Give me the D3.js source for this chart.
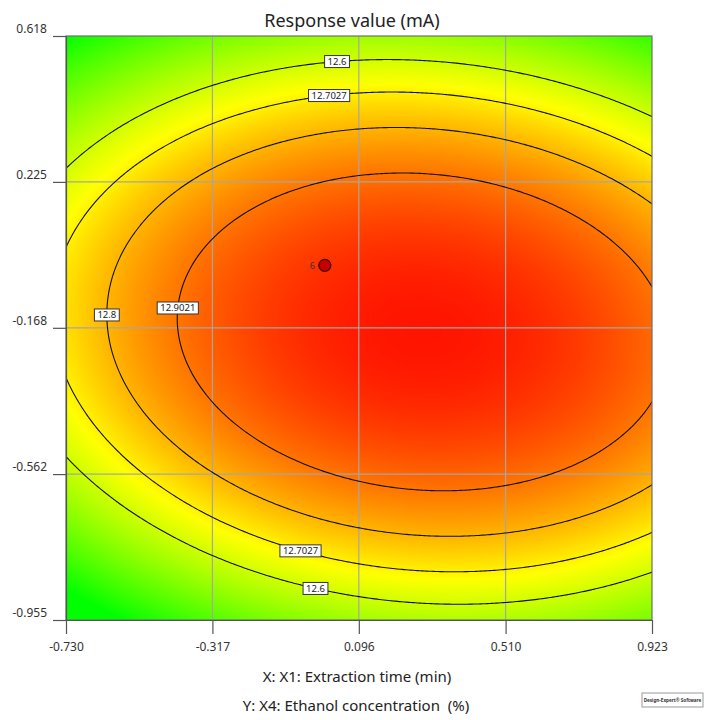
<html>
<head>
<script src="https://d3js.org/d3.v7.min.js"></script>
<style>
  body { margin: 0; background: #fff; }
  text { font-family: "Segoe UI", "Noto Sans", sans-serif; }
</style>
</head>

<body>

<script>

// axis ticks (coded units)
var xTicks = [-0.730, -0.317, 0.096, 0.510, 0.923];
var yTicks = [-0.955, -0.562, -0.168, 0.225, 0.618];

// fitted quadratic surface:
// f = peak - a*dx^2 - e*dx*dy - b*dy^2,  dx = x - x0, dy = y - y0
var modelNames = ["peak", "x0", "y0", "a", "e", "b"];
var modelCoef  = [13.058, 0.277, -0.179, 0.3267, 0.0890, 0.8572];

// contour levels
var levels = [12.6, 12.7027, 12.8, 12.9021];

// contour labels: level, where it sits, which side of the ellipse
var labelLevels = [12.6, 12.7027, 12.8, 12.9021, 12.7027, 12.6];
var labelAt     = [0.0345, 0.0122, -0.1334, -0.1146, -0.0685, -0.0262];
var labelSide   = ["top", "top", "left", "left", "bottom", "bottom"];

// design point
var pointX = [0.0], pointY = [0.0], pointCount = ["6"];

// colour stops
var colorValues = [12.25, 12.68, 13.09];
var colorStops  = ["#00ff00", "#ffff00", "#ff0000"];

var m = {};
modelNames.forEach(function(n, i) { m[n] = modelCoef[i]; });

function f(xv, yv) {
  var dx = xv - m.x0, dy = yv - m.y0;
  return m.peak - m.a * dx * dx - m.e * dx * dy - m.b * dy * dy;
}

var W = 704, H = 720;
var pL = 66, pT = 36, pR = 652, pB = 620;

var svg = d3.select("body").append("svg")
            .attr("width", W)
            .attr("height", H);

var x = d3.scaleLinear().domain([-0.730, 0.923]).range([pL, pR]);
var y = d3.scaleLinear().domain([-0.955, 0.618]).range([pB, pT]);

var color = d3.scaleLinear().domain(colorValues).range(colorStops).clamp(true);

// heat map painted on a canvas, then placed in the svg
var pw = pR - pL, ph = pB - pT;
var canvas = document.createElement("canvas");
canvas.width = pw; canvas.height = ph;
var ctx = canvas.getContext("2d");
var img = ctx.createImageData(pw, ph);
for (var j = 0; j < ph; j++) {
  var yv = y.invert(pT + j + 0.5);
  for (var i = 0; i < pw; i++) {
    var c = d3.rgb(color(f(x.invert(pL + i + 0.5), yv)));
    var k = (j * pw + i) * 4;
    img.data[k] = c.r; img.data[k + 1] = c.g; img.data[k + 2] = c.b; img.data[k + 3] = 255;
  }
}
ctx.putImageData(img, 0, 0);

svg.append("image")
   .attr("x", pL).attr("y", pT)
   .attr("width", pw).attr("height", ph)
   .attr("href", canvas.toDataURL());

// grid lines
svg.append("g").selectAll("line")
   .data(xTicks.slice(1, -1))
   .enter().append("line")
   .attr("x1", function(d) { return x(d); }).attr("x2", function(d) { return x(d); })
   .attr("y1", pT).attr("y2", pB)
   .attr("stroke", "#a6a6a6").attr("stroke-width", 1.2);

svg.append("g").selectAll("line")
   .data(yTicks.slice(1, -1))
   .enter().append("line")
   .attr("y1", function(d) { return y(d); }).attr("y2", function(d) { return y(d); })
   .attr("x1", pL).attr("x2", pR)
   .attr("stroke", "#a6a6a6").attr("stroke-width", 1.2);

// contours over a slightly larger grid, clipped to the plot
var xe = [-0.85, 1.05], ye = [-1.08, 0.74], n = 300;
var sx = (xe[1] - xe[0]) / (n - 1), sy = (ye[1] - ye[0]) / (n - 1);
var grid = new Array(n * n);
for (var gj = 0; gj < n; gj++)
  for (var gi = 0; gi < n; gi++)
    grid[gj * n + gi] = f(xe[0] + gi * sx, ye[0] + gj * sy);

var contours = d3.contours().size([n, n]).thresholds(levels)(grid);

var proj = d3.geoTransform({
  point: function(gx, gy) {
    this.stream.point(x(xe[0] + (gx - 0.5) * sx), y(ye[0] + (gy - 0.5) * sy));
  }
});

svg.append("clipPath").attr("id", "plotclip")
   .append("rect").attr("x", pL).attr("y", pT).attr("width", pw).attr("height", ph);

svg.append("g")
   .attr("clip-path", "url(#plotclip)")
   .selectAll("path")
   .data(contours)
   .enter().append("path")
   .attr("d", d3.geoPath(proj))
   .attr("fill", "none")
   .attr("stroke", "#111")
   .attr("stroke-width", 1.1);

// frame
svg.append("rect")
   .attr("x", pL).attr("y", pT).attr("width", pw).attr("height", ph)
   .attr("fill", "none").attr("stroke", "#6e6e6e").attr("stroke-width", 1.2);

// axes (plain hyphen for negatives, as in the original)
var fmt = d3.formatLocale({ decimal: ".", thousands: ",", grouping: [3], currency: ["", ""], minus: "-" }).format(".3f");

var xAxis = svg.append("g")
   .attr("transform", "translate(0," + pB + ")")
   .call(d3.axisBottom(x).tickValues(xTicks).tickFormat(fmt).tickSize(14).tickSizeOuter(0).tickPadding(8));

var yAxis = svg.append("g")
   .attr("transform", "translate(" + pL + ",0)")
   .call(d3.axisLeft(y).tickValues(yTicks).tickFormat(fmt).tickSize(13).tickSizeOuter(0).tickPadding(6));

[xAxis, yAxis].forEach(function(ax) {
  ax.select(".domain").attr("stroke", "#555").attr("stroke-width", 1.2);
  ax.selectAll(".tick line").attr("stroke", "#555").attr("stroke-width", 1.2);
  ax.selectAll(".tick text").attr("fill", "#333").style("font-size", "12px")
    .style("font-family", "'Segoe UI', 'Noto Sans', sans-serif");
});
yAxis.selectAll(".tick text").attr("dy", "-0.3em");

// contour labels, placed on the line by solving the quadratic
function labelPos(level, at, side) {
  var r = m.peak - level;
  if (side === "left") {
    var dy = at - m.y0;
    var disc = m.e * m.e * dy * dy - 4 * m.a * (m.b * dy * dy - r);
    return [m.x0 + (-m.e * dy - Math.sqrt(disc)) / (2 * m.a), at];
  }
  var dx = at - m.x0;
  var disc2 = m.e * m.e * dx * dx - 4 * m.b * (m.a * dx * dx - r);
  var s = side === "top" ? 1 : -1;
  return [at, m.y0 + (-m.e * dx + s * Math.sqrt(disc2)) / (2 * m.b)];
}

var labels = svg.append("g").selectAll("g")
   .data(labelLevels.map(function(l, i) { return { level: l, p: labelPos(l, labelAt[i], labelSide[i]) }; }))
   .enter().append("g")
   .attr("transform", function(d) { return "translate(" + x(d.p[0]) + "," + y(d.p[1]) + ")"; });

labels.append("text")
   .attr("text-anchor", "middle")
   .attr("dy", "0.35em")
   .style("font-size", "9.5px")
   .attr("fill", "#222")
   .text(function(d) { return String(d.level); });

labels.each(function() {
  var g = d3.select(this);
  var w = g.select("text").node().getComputedTextLength() + 6;
  g.insert("rect", "text")
   .attr("x", -w / 2).attr("y", -6).attr("width", w).attr("height", 12)
   .attr("fill", "#fff").attr("stroke", "#333").attr("stroke-width", 1);
});

// design point
svg.selectAll("circle.pt")
   .data(pointX)
   .enter().append("circle")
   .attr("class", "pt")
   .attr("cx", function(d) { return x(d); })
   .attr("cy", function(d, i) { return y(pointY[i]); })
   .attr("r", 6)
   .attr("fill", "#c40000")
   .attr("stroke", "#3a0000")
   .attr("stroke-width", 1.2);

svg.selectAll("text.pt")
   .data(pointX)
   .enter().append("text")
   .attr("class", "pt")
   .attr("x", function(d) { return x(d) - 10; })
   .attr("y", function(d, i) { return y(pointY[i]); })
   .attr("dy", "0.35em")
   .attr("text-anchor", "end")
   .style("font-size", "9px")
   .attr("fill", "#333")
   .text(function(d, i) { return pointCount[i]; });

// titles
svg.append("text")
   .attr("x", 352).attr("y", 27)
   .attr("text-anchor", "middle")
   .style("font-size", "18px")
   .attr("fill", "#222")
   .text("Response value (mA)");

svg.append("text")
   .attr("x", 357).attr("y", 682)
   .attr("text-anchor", "middle")
   .style("font-size", "15px")
   .attr("fill", "#222")
   .text("X: X1: Extraction time (min)");

svg.append("text")
   .attr("x", 356).attr("y", 711)
   .attr("text-anchor", "middle")
   .style("font-size", "15px")
   .style("white-space", "pre")
   .attr("fill", "#222")
   .text("Y: X4: Ethanol concentration  (%)");

// software badge
svg.append("rect")
   .attr("x", 642).attr("y", 693).attr("width", 61).attr("height", 14)
   .attr("fill", "#fff").attr("stroke", "#999").attr("stroke-width", 1);

svg.append("text")
   .attr("x", 672.5).attr("y", 701.5)
   .attr("text-anchor", "middle")
   .style("font-size", "4.6px")
   .style("font-weight", "bold")
   .attr("fill", "#333")
   .text("Design-Expert® Software");

</script>

</body>
</html>
